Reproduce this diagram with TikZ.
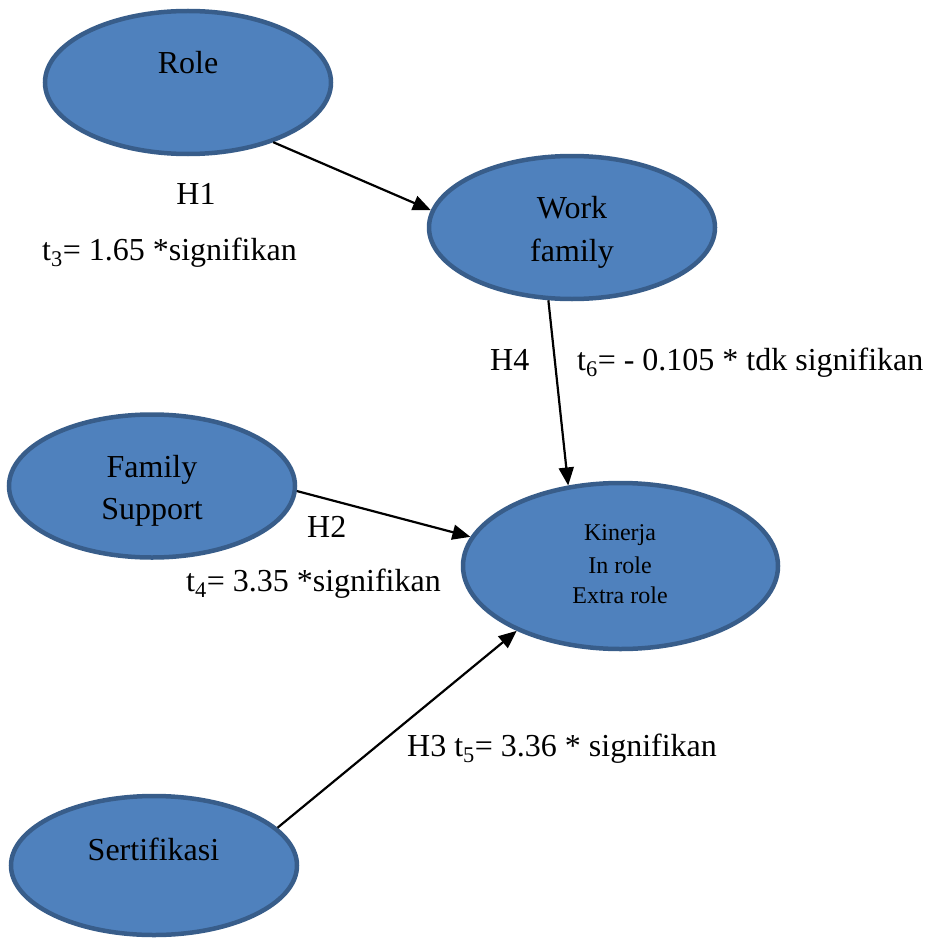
\documentclass[tikz,border=0pt]{standalone}
\usepackage{fontspec}
\setmainfont{Liberation Serif}
\usetikzlibrary{arrows.meta,shapes.geometric}
\definecolor{efill}{HTML}{4F81BD}
\definecolor{eborder}{HTML}{385D8A}
\begin{document}
\begin{tikzpicture}[x=1pt,y=-1pt,
  blob/.style={ellipse,draw=eborder,fill=efill,line width=4.5pt,inner sep=0pt,minimum width=286pt,minimum height=143pt},
  txt/.style={anchor=base,font=\fontsize{32}{38}\selectfont,inner sep=0pt},
  ltxt/.style={anchor=base west,font=\fontsize{32}{38}\selectfont,inner sep=0pt},
  stxt/.style={anchor=base,font=\fontsize{24}{29}\selectfont,inner sep=0pt},
  conn/.style={line width=2.2pt,-{Triangle[length=18pt,width=15pt]}}]
\useasboundingbox (0,0) rectangle (924,939);
% ellipses
\node[blob] (role) at (188,82.5) {};
\node[blob] (work) at (572,227.5) {};
\node[blob] (fs) at (152,486) {};
\node[blob,minimum width=315pt,minimum height=166pt] (kin) at (620.5,566) {};
\node[blob,minimum height=139pt] (sert) at (154,865.5) {};
% ellipse texts
\node[txt] (roleT) at (188,74) {Role};
\node[txt] (workT1) at (572,218) {Work};
\node[txt] (workT2) at (572,261) {family};
\node[txt] (fsT1) at (152,477) {Family};
\node[txt] (fsT2) at (152,519) {Support};
\node[stxt] (kinT1) at (620,540) {Kinerja};
\node[stxt] (kinT2) at (620,573) {In role};
\node[stxt] (kinT3) at (620,603) {Extra role};
\node[txt] (sertT) at (153.5,860) {Sertifikasi};
% labels
\node[txt] (h1) at (196,204) {H1};
\node[ltxt] (t3) at (42,260) {t\textsubscript{3}= 1.65 *signifikan};
\node[ltxt] (h4) at (490,370) {H4};
\node[ltxt] (t6) at (577,370) {t\textsubscript{6}= - 0.105 * tdk signifikan};
\node[ltxt] (h2) at (307,537) {H2};
\node[ltxt] (t4) at (186,591) {t\textsubscript{4}= 3.35 *signifikan};
\node[ltxt] (h3) at (407,756) {H3 t\textsubscript{5}= 3.36 * signifikan};
% connectors
\draw[conn] (role.-35.5) -- (work.173.8);
\draw[conn] (work.-108.3) -- (kin.123.2);
\draw[conn] (fs.-2.7) -- (kin.169.9);
\draw[conn] (sert.17.6) -- (kin.-148.2);
\end{tikzpicture}
\end{document}
